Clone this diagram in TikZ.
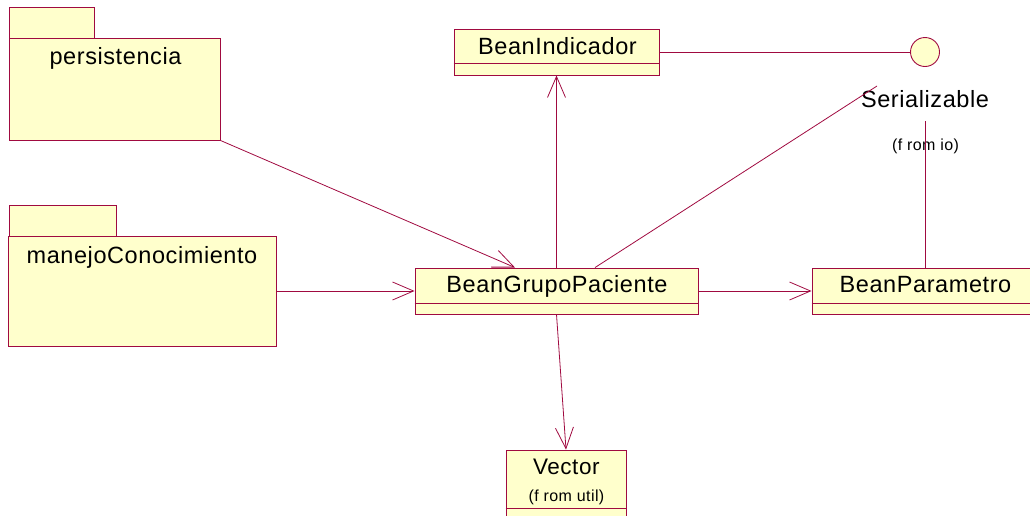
\documentclass[tikz,border=0pt]{standalone}
\usepackage{fontspec}
\setmainfont[LetterSpace=2.5]{Liberation Sans}
\usetikzlibrary{positioning,arrows.meta}

\definecolor{roseline}{RGB}{160,10,64}
\definecolor{rosefill}{RGB}{255,255,204}

\begin{document}
\begin{tikzpicture}[x=1pt, y=-1pt,
	box/.style={draw=roseline, fill=rosefill, line width=0.9pt, inner sep=0pt},
	title/.style={font=\fontsize{23.5}{26}\selectfont, inner sep=0pt, anchor=base},
	fromtext/.style={font=\fontsize{16}{18}\selectfont, inner sep=0pt, anchor=base},
	link/.style={draw=roseline, line width=0.8pt},
	dep/.style={link, -{Straight Barb[length=21pt, width=18pt, line width=0.8pt]}}]
	\useasboundingbox (0,0) rectangle (1030,515);

	% packages
	\node[box, minimum width=211pt, minimum height=102pt] (pers) at (114.5,89) {};
	\filldraw[box] ([xshift=1pt, yshift=-0.6pt]pers.north west) -- ++(0,-30.6) -- ++(85,0) -- ++(0,30.6);
	\node[box, minimum width=268pt, minimum height=110pt] (manejo) at (142,291) {};
	\filldraw[box] ([xshift=2pt, yshift=-0.6pt]manejo.north west) -- ++(0,-30.6) -- ++(107,0) -- ++(0,30.6);
	\node[title] (persName) at (115.5,64) {persistencia};
	\node[title] (manejoName) at (142,263) {manejoConocimiento};

	% classes
	\node[box, minimum width=205pt, minimum height=46pt] (ind) at (556.5,52) {};
	\node[box, minimum width=283pt, minimum height=46pt] (grp) at (556.5,291) {};
	\node[box, minimum width=227pt, minimum height=46pt] (par) at (925.5,291) {};
	\node[box, minimum width=120pt, minimum height=80pt] (vec) at (566,490) {};
	\draw[link] ([yshift=12pt]ind.south west) -- ([yshift=12pt]ind.south east);
	\draw[link] ([yshift=11pt]grp.south west) -- ([yshift=11pt]grp.south east);
	\draw[link] ([yshift=11pt]par.south west) -- ([yshift=11pt]par.south east);
	\draw[link] ([yshift=22pt]vec.south west) -- ([yshift=22pt]vec.south east);
	\node[title] (indName) at (557.5,54) {BeanIndicador};
	\node[title] (grpName) at (557,292) {BeanGrupoPaciente};
	\node[title] (parName) at (925.5,292.5) {BeanParametro};
	\node[title, font=\fontsize{22.5}{25}\selectfont] (vecName) at (566.3,474) {Vector};
	\node[fromtext] (vecFrom) at (566.5,501) {(f rom util)};

	% interface
	\node[box, circle, minimum size=29pt] (ser) at (925,52) {};
	\node[title] (serName) at (925,107.5) {Serializable};
	\node[fromtext] (serFrom) at (925.5,150) {(f rom io)};
	\coordinate (serTip) at (877,86);
	\coordinate (serFoot) at (925.5,121);

	% connectors
	\draw[dep] (pers.south east) -- ([xshift=-41.5pt]grp.north);
	\draw[dep] (manejo) -- (grp);
	\draw[dep] (grp.north) -- (ind.south);
	\draw[dep] (grp) -- (par);
	\draw[dep] (grp.south) -- (vec.north);
	\draw[link] (ind.east) -- (ser.west);
	\draw[link] ([xshift=38.5pt]grp.north) -- (serTip);
	\draw[link] (par.north) -- (serFoot);

\end{tikzpicture}
\end{document}
